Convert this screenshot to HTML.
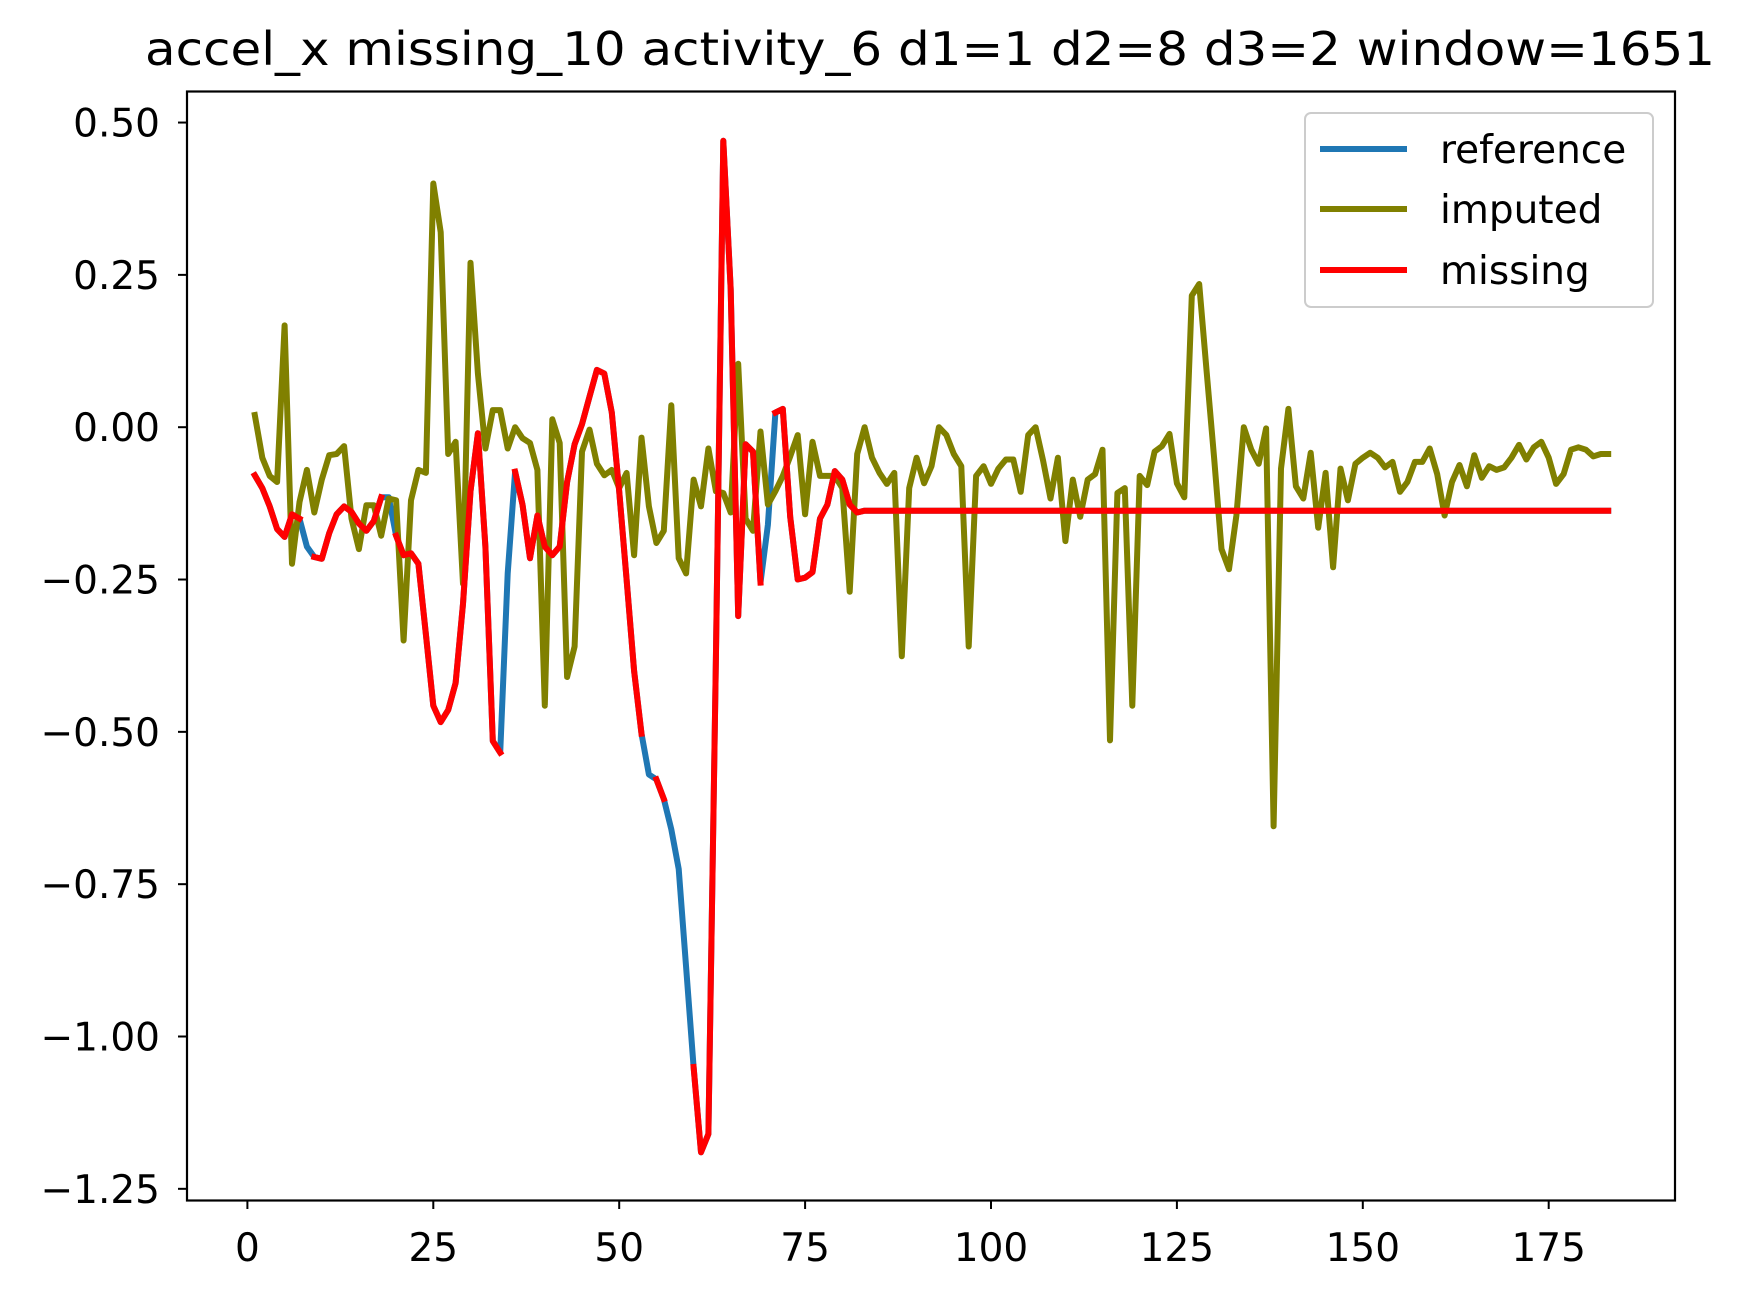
<!DOCTYPE html>
<html><head><meta charset="utf-8"><style>
body{margin:0;background:#fff}
svg text{font-family:"DejaVu Sans","Liberation Sans",sans-serif;fill:#000}
</style></head><body>
<svg id="chart" width="1747" height="1300" xmlns="http://www.w3.org/2000/svg">
<rect width="1747" height="1300" fill="#fff"/>
<text x="930" y="65" font-size="46" text-anchor="middle" textLength="1570" lengthAdjust="spacingAndGlyphs">accel_x missing_10 activity_6 d1=1 d2=8 d3=2 window=1651</text>
<g id="plot"></g>
<rect x="187" y="91.5" width="1488" height="1109" fill="none" stroke="#000" stroke-width="2.2"/>
<g id="axes"></g>
<g>
<rect x="1305" y="113" width="348" height="194" rx="6" fill="#fff" fill-opacity="0.8" stroke="#ccc" stroke-width="2"/>
<line x1="1320" y1="149" x2="1407" y2="149" stroke="#1f77b4" stroke-width="6"/>
<text x="1440" y="163" font-size="39">reference</text>
<line x1="1320" y1="209" x2="1407" y2="209" stroke="#808000" stroke-width="6"/>
<text x="1440" y="223" font-size="39">imputed</text>
<line x1="1320" y1="270" x2="1407" y2="270" stroke="#ff0000" stroke-width="6"/>
<text x="1440" y="284" font-size="39">missing</text>
</g>
</svg>
<script>
const xTicks=[0,25,50,75,100,125,150,175];
const yTicks=[0.5,0.25,0,-0.25,-0.5,-0.75,-1.0,-1.25];
const yTickLabels=["0.50","0.25","0.00","\u22120.25","\u22120.50","\u22120.75","\u22121.00","\u22121.25"];
const referenceHead=[-0.079,-0.10,-0.13,-0.167,-0.18,-0.143,-0.15,-0.196,-0.213,-0.216,-0.174,-0.143,-0.13,-0.139,-0.158,-0.17,-0.154,-0.115,-0.115,-0.178,-0.21,-0.207,-0.224,-0.34,-0.457,-0.484,-0.464,-0.42,-0.29,-0.105,-0.01,-0.196,-0.515,-0.534,-0.24,-0.073,-0.127,-0.215,-0.145,-0.196,-0.21,-0.196,-0.09,-0.028,0.005,0.05,0.094,0.088,0.024,-0.105,-0.25,-0.40,-0.503,-0.57,-0.578,-0.61,-0.66,-0.725,-0.886,-1.05,-1.19,-1.16,-0.38,0.47,0.226,-0.31,-0.028,-0.04,-0.255,-0.16,0.024,0.03,-0.147,-0.25,-0.247,-0.238,-0.15,-0.127,-0.072,-0.086,-0.127,-0.14];
const referenceTailValue=-0.137;
const referenceLength=183;
const missingGaps=[8,19,35,54,57,58,59,70];
const imputed=[0.02,-0.05,-0.08,-0.09,0.167,-0.224,-0.123,-0.07,-0.14,-0.086,-0.046,-0.044,-0.031,-0.15,-0.2,-0.128,-0.128,-0.178,-0.117,-0.12,-0.35,-0.12,-0.07,-0.075,0.40,0.32,-0.044,-0.024,-0.257,0.27,0.088,-0.035,0.028,0.028,-0.035,0.0,-0.018,-0.026,-0.07,-0.457,0.013,-0.026,-0.41,-0.36,-0.04,-0.004,-0.06,-0.079,-0.07,-0.10,-0.075,-0.21,-0.017,-0.13,-0.19,-0.17,0.036,-0.215,-0.24,-0.086,-0.13,-0.035,-0.105,-0.108,-0.14,0.104,-0.15,-0.17,-0.007,-0.127,-0.105,-0.08,-0.048,-0.013,-0.143,-0.024,-0.08,-0.08,-0.08,-0.10,-0.27,-0.044,0.0,-0.05,-0.075,-0.093,-0.075,-0.376,-0.10,-0.05,-0.092,-0.064,0.0,-0.013,-0.044,-0.064,-0.36,-0.08,-0.064,-0.093,-0.068,-0.053,-0.053,-0.106,-0.013,0.0,-0.055,-0.117,-0.05,-0.187,-0.086,-0.147,-0.086,-0.077,-0.037,-0.514,-0.108,-0.10,-0.457,-0.08,-0.095,-0.04,-0.031,-0.011,-0.092,-0.115,0.216,0.235,0.092,-0.05,-0.2,-0.233,-0.145,0.0,-0.037,-0.06,-0.002,-0.655,-0.068,0.03,-0.097,-0.117,-0.042,-0.165,-0.075,-0.23,-0.068,-0.12,-0.06,-0.05,-0.042,-0.05,-0.066,-0.057,-0.106,-0.09,-0.057,-0.057,-0.035,-0.077,-0.145,-0.09,-0.062,-0.097,-0.046,-0.083,-0.064,-0.07,-0.066,-0.05,-0.029,-0.053,-0.033,-0.024,-0.05,-0.093,-0.077,-0.037,-0.033,-0.037,-0.048,-0.044,-0.044];

const reference=[];
for(let i=0;i<referenceLength;i++){reference.push(i<referenceHead.length?referenceHead[i]:referenceTailValue);}
const missing=reference.map((v,i)=>missingGaps.includes(i+1)?null:v);

const X0=247.4,XS=7.436,Y0=427.2,YS=609.3;
const xs=v=>X0+XS*v;
const ys=v=>Y0-YS*v;
const NS='http://www.w3.org/2000/svg';
const plot=document.getElementById('plot');
const axes=document.getElementById('axes');

function drawSeries(vals,color,name){
  let d='';let pen=false;
  vals.forEach((v,i)=>{
    if(v===null){pen=false;return;}
    d+=(pen?'L':'M')+xs(i+1).toFixed(1)+' '+ys(v).toFixed(1)+' ';pen=true;
  });
  const p=document.createElementNS(NS,'path');
  p.setAttribute('d',d);p.setAttribute('fill','none');p.setAttribute('stroke',color);
  p.setAttribute('stroke-width','6');p.setAttribute('stroke-linejoin','round');p.setAttribute('stroke-linecap','square');
  
  
  plot.appendChild(p);
}
drawSeries(reference,'#1f77b4','reference-line');
drawSeries(imputed,'#808000','imputed-line');
drawSeries(missing,'#ff0000','missing-line');

xTicks.forEach(t=>{
  const l=document.createElementNS(NS,'line');
  l.setAttribute('x1',xs(t));l.setAttribute('x2',xs(t));l.setAttribute('y1',1200);l.setAttribute('y2',1209);
  l.setAttribute('stroke','#000');l.setAttribute('stroke-width','2');
  
  
  axes.appendChild(l);
  const tx=document.createElementNS(NS,'text');
  tx.setAttribute('x',xs(t));tx.setAttribute('y',1261);tx.setAttribute('font-size','39');tx.setAttribute('text-anchor','middle');
  tx.textContent=String(t);
  
  
  axes.appendChild(tx);
});
yTicks.forEach((t,i)=>{
  const l=document.createElementNS(NS,'line');
  l.setAttribute('x1',178);l.setAttribute('x2',187);l.setAttribute('y1',ys(t));l.setAttribute('y2',ys(t));
  l.setAttribute('stroke','#000');l.setAttribute('stroke-width','2');
  
  
  axes.appendChild(l);
  const tx=document.createElementNS(NS,'text');
  tx.setAttribute('x',160);tx.setAttribute('y',ys(t)+14);tx.setAttribute('font-size','39');tx.setAttribute('text-anchor','end');
  tx.textContent=yTickLabels[i];
  
  
  axes.appendChild(tx);
});
</script>
</body></html>
